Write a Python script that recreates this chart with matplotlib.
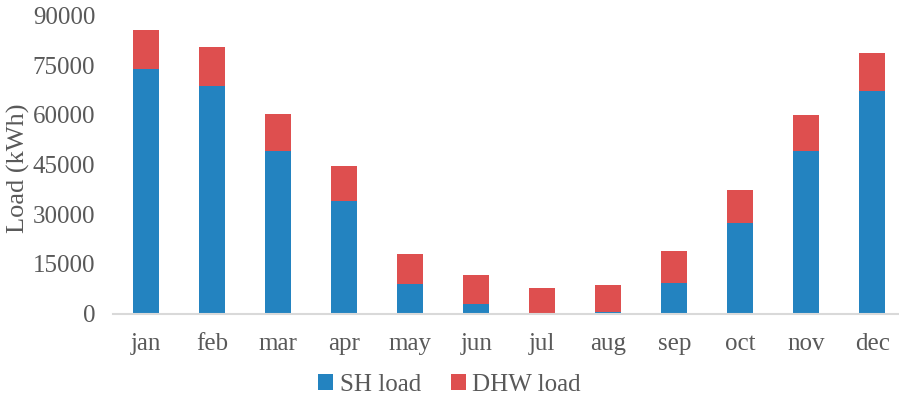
import matplotlib.pyplot as plt
import numpy as np

months = ['jan', 'feb', 'mar', 'apr', 'may', 'jun', 'jul', 'aug', 'sep', 'oct', 'nov', 'dec']
sh_load = [73850, 68800, 49050, 34100, 9000, 2870, 0, 400, 9300, 27270, 49050, 67200]
dhw_load = [11800, 11600, 11200, 10500, 9100, 8700, 7700, 8100, 9700, 10100, 11000, 11600]

plt.rcParams['font.family'] = ['Liberation Serif', 'DejaVu Serif']
grey = '#595959'

fig = plt.figure(figsize=(8.99, 4.01), dpi=100)
ax = fig.add_axes([0.126, 0.218, 0.881, 0.743])

x = np.arange(len(months))
ax.bar(x, sh_load, width=0.4, color='#2383c0', label='SH load')
ax.bar(x, dhw_load, width=0.4, bottom=sh_load, color='#de4f4f', label='DHW load')

ax.set_xlim(-0.5, 11.5)
ax.set_ylim(0, 90000)
ax.set_yticks(range(0, 90001, 15000))
ax.set_xticks(x)
ax.set_xticklabels(months)
ax.tick_params(axis='both', length=0, labelsize=18, colors=grey)
ax.tick_params(axis='y', pad=13)
ax.tick_params(axis='x', pad=14)

for s in ['top', 'right', 'left']:
    ax.spines[s].set_visible(False)
ax.spines['bottom'].set_color('#d9d9d9')
ax.spines['bottom'].set_linewidth(1.5)

fig.text(0.02, 0.58, 'Load (kWh)', rotation=90, fontsize=19, color=grey,
         ha='center', va='center')

fig.legend(loc='center', bbox_to_anchor=(0.5, 0.04), ncol=2, frameon=False,
           fontsize=18, labelcolor=grey, handlelength=0.6, handleheight=0.6,
           handletextpad=0.25, columnspacing=1.2)

plt.savefig('out.png')
